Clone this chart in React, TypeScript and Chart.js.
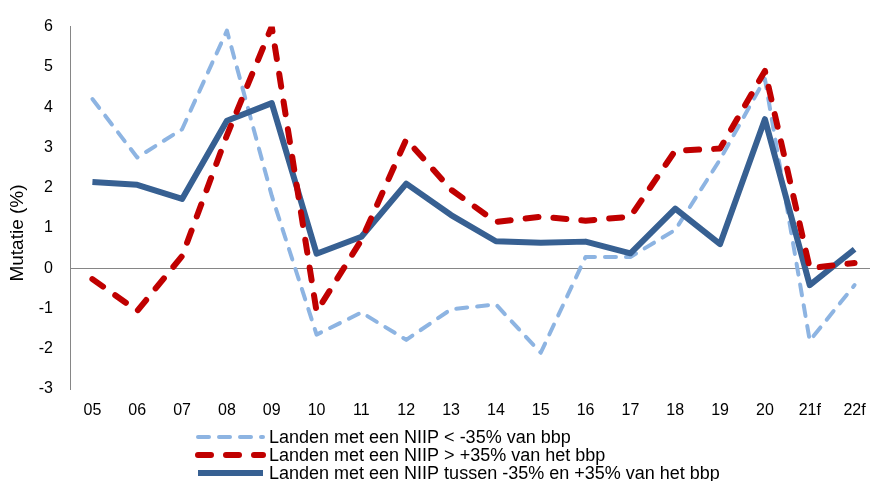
import React, { useEffect, useRef } from 'react';
import { Chart, registerables } from 'chart.js';

Chart.register(...registerables);

const categories = ['05', '06', '07', '08', '09', '10', '11', '12', '13', '14', '15', '16', '17', '18', '19', '20', '21f', '22f'];

// Landen met een NIIP < -35% van bbp
const niipLow = [4.2, 2.75, 3.45, 5.9, 1.8, -1.65, -1.1, -1.78, -1.02, -0.9, -2.1, 0.28, 0.28, 0.95, 2.7, 4.7, -1.8, -0.42];
// Landen met een NIIP > +35% van het bbp
const niipHigh = [-0.27, -1.06, 0.3, 3.3, 6.0, -1.08, 0.7, 3.2, 1.95, 1.15, 1.28, 1.18, 1.28, 2.92, 2.97, 4.9, 0.0, 0.13];
// Landen met een NIIP tussen -35% en +35% van het bbp
const niipMid = [2.14, 2.07, 1.72, 3.66, 4.1, 0.36, 0.78, 2.1, 1.32, 0.67, 0.63, 0.66, 0.37, 1.48, 0.6, 3.7, -0.42, 0.47];

const seriesLabels = [
  'Landen met een NIIP < -35% van bbp',
  'Landen met een NIIP > +35% van het bbp',
  'Landen met een NIIP tussen -35% en +35% van het bbp',
];
const yMin = -3;
const yMax = 6;
const yStep = 1;
const yTitle = 'Mutatie (%)';

const FONT = '"Liberation Sans", Arial, Helvetica, sans-serif';
const AXIS_GREY = '#868686';

const stackedLegend = {
  id: 'stackedLegend',
  afterDraw(chart: any) {
    const ctx = chart.ctx;
    const rows = [437, 455, 473];
    ctx.save();
    chart.data.datasets.forEach((ds: any, i: number) => {
      const y = rows[i];
      ctx.beginPath();
      ctx.strokeStyle = ds.borderColor;
      ctx.lineWidth = ds.borderWidth;
      ctx.lineCap = ds.borderCapStyle || 'butt';
      ctx.setLineDash(ds.borderDash || []);
      ctx.moveTo(198, y);
      ctx.lineTo(263, y);
      ctx.stroke();
      ctx.setLineDash([]);
      ctx.fillStyle = '#000';
      ctx.font = `18px ${FONT}`;
      ctx.textAlign = 'left';
      ctx.textBaseline = 'middle';
      ctx.fillText(ds.label, 269, y + 1);
    });
    ctx.restore();
  },
};

const yTitlePlugin = {
  id: 'yTitlePlugin',
  afterDraw(chart: any) {
    const ctx = chart.ctx;
    ctx.save();
    ctx.translate(18, 233);
    ctx.rotate(-Math.PI / 2);
    ctx.fillStyle = '#000';
    ctx.font = `19px ${FONT}`;
    ctx.textAlign = 'center';
    ctx.textBaseline = 'middle';
    ctx.fillText(yTitle, 0, 0);
    ctx.restore();
  },
};

export default function App() {
  const canvasRef = useRef<HTMLCanvasElement | null>(null);

  useEffect(() => {
    if (!canvasRef.current) return;
    const chart = new Chart(canvasRef.current, {
      type: 'line',
      data: {
        labels: categories,
        datasets: [
          {
            label: seriesLabels[0],
            data: niipLow,
            borderColor: '#8DB4E2',
            borderWidth: 4,
            borderDash: [11, 10],
            borderCapStyle: 'round',
            borderJoinStyle: 'round',
            pointRadius: 0,
            fill: false,
            tension: 0,
            order: 3,
          },
          {
            label: seriesLabels[1],
            data: niipHigh,
            borderColor: '#C00000',
            borderWidth: 6,
            borderDash: [13, 15],
            borderCapStyle: 'round',
            borderJoinStyle: 'round',
            pointRadius: 0,
            fill: false,
            tension: 0,
            order: 1,
          },
          {
            label: seriesLabels[2],
            data: niipMid,
            borderColor: '#376092',
            borderWidth: 6,
            borderCapStyle: 'butt',
            borderJoinStyle: 'round',
            pointRadius: 0,
            fill: false,
            tension: 0,
            order: 2,
          },
        ],
      },
      options: {
        animation: false,
        responsive: true,
        maintainAspectRatio: false,
        layout: { padding: { top: 23, right: 3, bottom: 0, left: 0 } },
        plugins: {
          legend: { display: false },
          tooltip: { enabled: false },
          title: { display: false },
        },
        scales: {
          x: {
            type: 'category',
            offset: true,
            grid: { display: false, drawTicks: false },
            border: { display: false },
            ticks: {
              color: '#000',
              font: { family: FONT, size: 16 },
              padding: 12,
              maxRotation: 0,
              autoSkip: false,
            },
            afterFit: (scale: any) => {
              scale.height = 92;
            },
          },
          y: {
            min: yMin,
            max: yMax,
            grid: {
              display: true,
              drawTicks: false,
              color: (c: any) => (c.tick && c.tick.value === 0 ? AXIS_GREY : 'rgba(0,0,0,0)'),
              lineWidth: 1,
            },
            border: { display: true, color: AXIS_GREY, width: 1 },
            ticks: {
              stepSize: yStep,
              color: '#000',
              font: { family: FONT, size: 16 },
              padding: 17,
            },
            afterFit: (scale: any) => {
              scale.width = 70;
            },
          },
        },
      },
      plugins: [stackedLegend, yTitlePlugin],
    });
    return () => chart.destroy();
  }, []);

  return (
    <div style={{ position: 'absolute', left: 0, top: 0, width: 870, height: 481, overflow: 'hidden', background: '#fff' }}>
      <div style={{ position: 'relative', width: 880, height: 481 }}>
        <canvas ref={canvasRef} />
      </div>
    </div>
  );
}
